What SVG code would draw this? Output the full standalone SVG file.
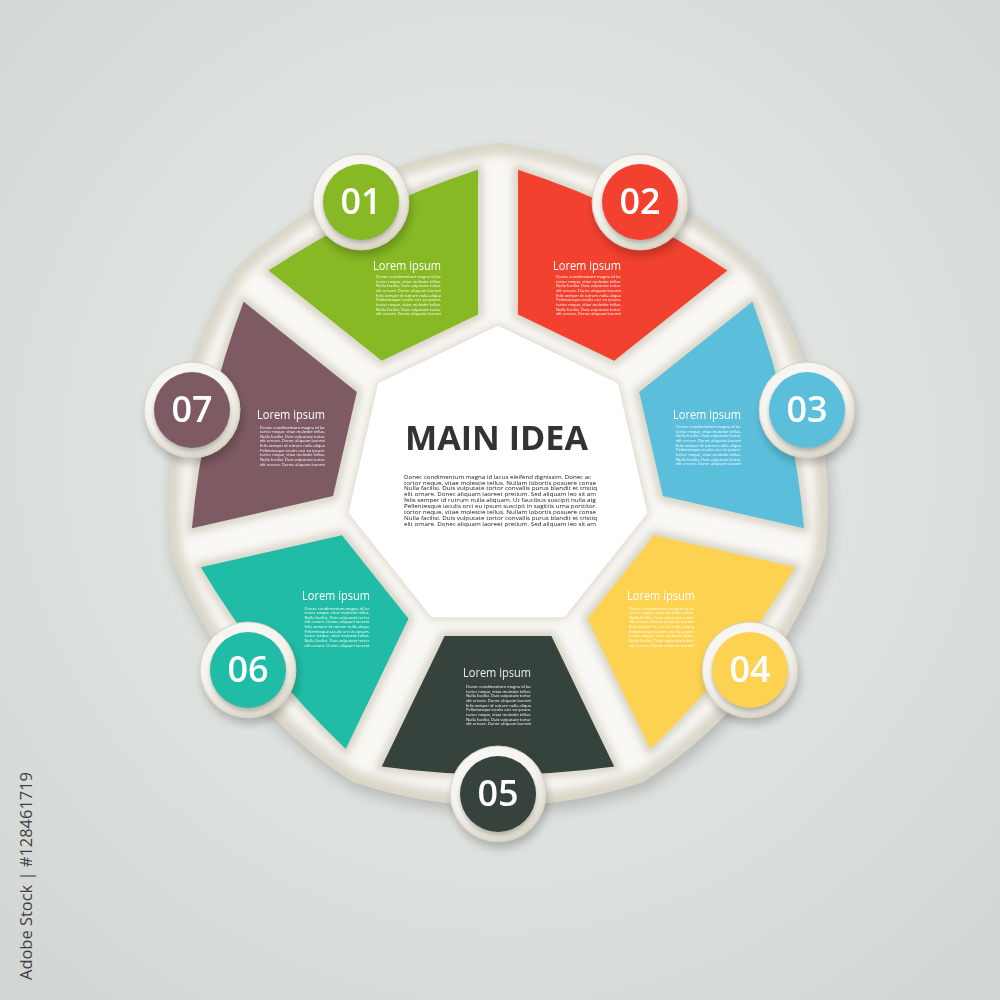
<svg xmlns="http://www.w3.org/2000/svg" xmlns:xlink="http://www.w3.org/1999/xlink" width="1000" height="1000" viewBox="0 0 1000 1000">
<defs>
<radialGradient id="bg" cx="500" cy="450" r="720" gradientUnits="userSpaceOnUse">
<stop offset="0" stop-color="#eaedeb"/>
<stop offset="1" stop-color="#d2d7d4"/>
</radialGradient>
<radialGradient id="ringG" cx="0.45" cy="0.4" r="0.6">
<stop offset="0" stop-color="#ffffff"/>
<stop offset="0.75" stop-color="#f5f3ed"/>
<stop offset="1" stop-color="#d9d5c7"/>
</radialGradient>
<filter id="b2" x="-20%" y="-20%" width="140%" height="140%"><feGaussianBlur stdDeviation="2"/></filter>
<filter id="b4" x="-20%" y="-20%" width="140%" height="140%"><feGaussianBlur stdDeviation="4"/></filter>
<filter id="b5" x="-20%" y="-20%" width="140%" height="140%"><feGaussianBlur stdDeviation="5"/></filter>
<filter id="b7" x="-20%" y="-20%" width="140%" height="140%"><feGaussianBlur stdDeviation="7"/></filter>
<path id="seg" d="M-53.4,157 L53.4,157 L116.2,287.4 A850,850 0 0 1 -116.2,287.4 Z"/>
<path id="outer" d="M498,147 A450,450 0 0 1 757.6,272 A450,450 0 0 1 821.7,552.9 A450,450 0 0 1 642.1,778.1 A450,450 0 0 1 353.9,778.1 A450,450 0 0 1 174.3,552.9 A450,450 0 0 1 238.4,272 A450,450 0 0 1 498,147 Z"/>
<path id="hept" d="M498,329 L615.3,385.5 L644.2,512.4 L563.1,614.2 L432.9,614.2 L351.8,512.4 L380.7,385.5 Z"/>
<g id="ring">
<circle cx="2" cy="6" r="48" fill="#000" opacity="0.22" filter="url(#b4)"/>
<circle r="48" fill="url(#ringG)" stroke="#d3cfc1" stroke-width="1"/>
<circle cy="3" r="38" fill="#000" opacity="0.25" filter="url(#b2)"/>
</g>
<g id="body" class="b">
<text x="0" y="0" textLength="65" lengthAdjust="spacingAndGlyphs">Donec condimentum magna id lac</text>
<text x="0" y="4.65" textLength="65" lengthAdjust="spacingAndGlyphs">tortor neque, vitae molestie tellus.</text>
<text x="0" y="9.3" textLength="65" lengthAdjust="spacingAndGlyphs">Nulla facilisi. Duis vulputate tortor</text>
<text x="0" y="13.95" textLength="65" lengthAdjust="spacingAndGlyphs">elit ornare. Donec aliquam laoreet</text>
<text x="0" y="18.6" textLength="65" lengthAdjust="spacingAndGlyphs">felis semper id rutrum nulla aliqua</text>
<text x="0" y="23.25" textLength="65" lengthAdjust="spacingAndGlyphs">Pellentesque iaculis orci eu ipsum.</text>
<text x="0" y="27.9" textLength="65" lengthAdjust="spacingAndGlyphs">tortor neque, vitae molestie tellus.</text>
<text x="0" y="32.55" textLength="65" lengthAdjust="spacingAndGlyphs">Nulla facilisi. Duis vulputate tortor</text>
<text x="0" y="37.2" textLength="65" lengthAdjust="spacingAndGlyphs">elit ornare. Donec aliquam laoreet</text>
</g>
</defs>
<style>
.b{font-family:"Open Sans","DejaVu Sans",sans-serif;font-size:4.2px;fill:#ffffff}
.lab{font-family:"Open Sans","DejaVu Sans",sans-serif;font-size:12px;fill:#ffffff}
.num{font-family:"Open Sans","DejaVu Sans",sans-serif;font-size:36px;font-weight:600;fill:#ffffff;text-anchor:middle}
.cb{font-family:"Open Sans","DejaVu Sans",sans-serif;font-size:4.9px;fill:#222222}
.halo{fill:none;stroke:#cfcabb;stroke-width:8}
</style>
<rect width="1000" height="1000" fill="url(#bg)"/>
<text transform="translate(32,980) rotate(-90)" font-family="Open Sans, DejaVu Sans, sans-serif" font-size="17" fill="#3f3f3f" textLength="208" lengthAdjust="spacingAndGlyphs">Adobe Stock | #128461719</text>

<g id="frame">
<use href="#outer" fill="#000" opacity="0.18" stroke="#000" stroke-width="8" stroke-linejoin="round" transform="translate(3,7)" filter="url(#b7)"/>
<use href="#outer" fill="#dad6c9" stroke="#dad6c9" stroke-width="8" stroke-linejoin="round"/>
<use href="#outer" fill="#f9f8f4" stroke="#f9f8f4" stroke-width="8" stroke-linejoin="round" transform="translate(498,479) scale(0.965) translate(-498,-479)" filter="url(#b5)"/>
<g filter="url(#b4)">
<use href="#seg" class="halo" transform="translate(498,479) rotate(154.29)"/>
<use href="#seg" class="halo" transform="translate(498,479) rotate(205.71)"/>
<use href="#seg" class="halo" transform="translate(498,479) rotate(-102.86)"/>
<use href="#seg" class="halo" transform="translate(498,479) rotate(-51.43)"/>
<use href="#seg" class="halo" transform="translate(498,479)"/>
<use href="#seg" class="halo" transform="translate(498,479) rotate(51.43)"/>
<use href="#seg" class="halo" transform="translate(498,479) rotate(102.86)"/>
<use href="#hept" fill="none" stroke="#d4cfc1" stroke-width="8" stroke-linejoin="round"/>
</g>
</g>

<g id="center">
<use href="#hept" fill="#ffffff" stroke="#ffffff" stroke-width="6" stroke-linejoin="round"/>
<text x="405" y="450" font-family="Open Sans, DejaVu Sans, sans-serif" font-size="34" font-weight="700" fill="#333333" textLength="183" lengthAdjust="spacingAndGlyphs">MAIN IDEA</text>
<text class="cb" x="404" y="478.5" textLength="187" lengthAdjust="spacingAndGlyphs">Donec condimentum magna id lacus eleifend dignissim. Donec ac</text>
<text class="cb" x="404" y="484.5" textLength="192" lengthAdjust="spacingAndGlyphs">tortor neque, vitae molestie tellus. Nullam lobortis posuere  conse</text>
<text class="cb" x="404" y="490.4" textLength="193" lengthAdjust="spacingAndGlyphs">Nulla facilisi. Duis vulputate tortor convallis purus blandit et tristiq</text>
<text class="cb" x="404" y="496.4" textLength="192" lengthAdjust="spacingAndGlyphs">elit ornare. Donec aliquam laoreet pretium. Sed aliquam leo sit am</text>
<text class="cb" x="404" y="502.3" textLength="192" lengthAdjust="spacingAndGlyphs">felis semper id rutrum nulla aliquam. Ut faucibus suscipit nulla atg</text>
<text class="cb" x="404" y="508.3" textLength="193" lengthAdjust="spacingAndGlyphs">Pellentesque iaculis orci eu ipsum suscipit in sagittis urna porttitor.</text>
<text class="cb" x="404" y="514.2" textLength="192" lengthAdjust="spacingAndGlyphs">tortor neque, vitae molestie tellus. Nullam lobortis posuere  conse</text>
<text class="cb" x="404" y="520.2" textLength="193" lengthAdjust="spacingAndGlyphs">Nulla facilisi. Duis vulputate tortor convallis purus blandit et tristiq</text>
<text class="cb" x="404" y="526.1" textLength="192" lengthAdjust="spacingAndGlyphs">elit ornare. Donec aliquam laoreet pretium. Sed aliquam leo sit am</text>
</g>

<g id="node-01">
<use href="#seg" fill="#86b924" transform="translate(498,479) rotate(154.29)"/>
<text class="lab" x="373" y="270" textLength="68" lengthAdjust="spacingAndGlyphs">Lorem ipsum</text>
<use href="#body" x="376" y="278"/>
<use href="#ring" x="361" y="202"/>
<circle cx="361" cy="202" r="38" fill="#86b924"/>
<text class="num" x="361" y="214">01</text>
</g>
<g id="node-02">
<use href="#seg" fill="#f2412f" transform="translate(498,479) rotate(205.71)"/>
<text class="lab" x="553" y="269.5" textLength="68" lengthAdjust="spacingAndGlyphs">Lorem ipsum</text>
<use href="#body" x="556" y="278"/>
<use href="#ring" x="640" y="202"/>
<circle cx="640" cy="202" r="38" fill="#f2412f"/>
<text class="num" x="640" y="214">02</text>
</g>
<g id="node-03">
<use href="#seg" fill="#5bbfdc" transform="translate(498,479) rotate(-102.86)"/>
<text class="lab" x="673" y="418.5" textLength="68" lengthAdjust="spacingAndGlyphs">Lorem ipsum</text>
<use href="#body" x="676" y="428"/>
<use href="#ring" x="807" y="410"/>
<circle cx="807" cy="410" r="38" fill="#5bbfdc"/>
<text class="num" x="807" y="422">03</text>
</g>
<g id="node-04">
<use href="#seg" fill="#fdd250" transform="translate(498,479) rotate(-51.43)"/>
<text class="lab" x="627" y="600" textLength="68" lengthAdjust="spacingAndGlyphs">Lorem ipsum</text>
<use href="#body" x="629" y="609.5"/>
<use href="#ring" x="750" y="670"/>
<circle cx="750" cy="670" r="38" fill="#fdd250"/>
<text class="num" x="750" y="682">04</text>
</g>
<g id="node-05">
<use href="#seg" fill="#36423c" transform="translate(498,479)"/>
<text class="lab" x="463" y="677" textLength="68" lengthAdjust="spacingAndGlyphs" style="fill:#eeeeee">Lorem ipsum</text>
<use href="#body" x="466" y="688"/>
<use href="#ring" x="498" y="794"/>
<circle cx="498" cy="794" r="38" fill="#36423c"/>
<text class="num" x="498" y="806">05</text>
</g>
<g id="node-06">
<use href="#seg" fill="#20bca5" transform="translate(498,479) rotate(51.43)"/>
<text class="lab" x="302" y="600" textLength="68" lengthAdjust="spacingAndGlyphs">Lorem ipsum</text>
<use href="#body" x="304.5" y="609.5"/>
<use href="#ring" x="248" y="670"/>
<circle cx="248" cy="670" r="38" fill="#20bca5"/>
<text class="num" x="248" y="682">06</text>
</g>
<g id="node-07">
<use href="#seg" fill="#7e5a62" transform="translate(498,479) rotate(102.86)"/>
<text class="lab" x="257" y="418.5" textLength="68" lengthAdjust="spacingAndGlyphs">Lorem ipsum</text>
<use href="#body" x="260" y="428.5"/>
<use href="#ring" x="192" y="410"/>
<circle cx="192" cy="410" r="38" fill="#7e5a62"/>
<text class="num" x="192" y="422">07</text>
</g>
<g id="connectors"/>
</svg>
